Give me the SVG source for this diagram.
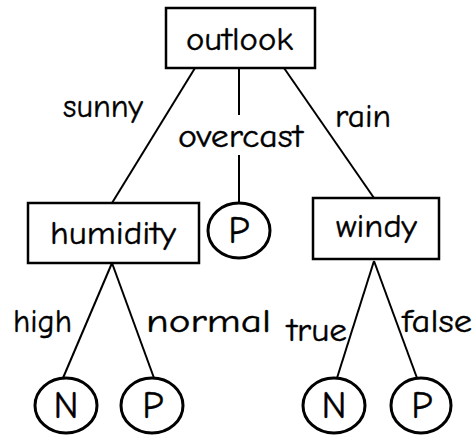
<svg xmlns="http://www.w3.org/2000/svg" width="475" height="436" viewBox="0 0 475 436">
<style>
.box{fill:#fff;stroke:#000;stroke-width:2.5}
.leaf{fill:#fff;stroke:#000;stroke-width:3}
.edge{fill:none;stroke:#000;stroke-width:2}
text{font-family:"Comic Sans MS","Comic Neue","Liberation Sans",sans-serif;font-size:33px;fill:#000;stroke:#000;stroke-width:0.4;text-anchor:middle}
.big{font-size:38px}
</style>
<rect width="475" height="436" fill="#fff"/>
<g id="connectors">
<line class="edge" x1="195" y1="68" x2="112" y2="203"/>
<path class="edge" d="M239 68V115M239 155V203"/>
<line class="edge" x1="284" y1="68" x2="374" y2="198"/>
<line class="edge" x1="112" y1="263" x2="63" y2="378"/>
<line class="edge" x1="112" y1="263" x2="154" y2="378"/>
<line class="edge" x1="374" y1="261" x2="337" y2="378"/>
<line class="edge" x1="374" y1="261" x2="417" y2="378"/>
<text x="103" y="117" textLength="80" lengthAdjust="spacingAndGlyphs">sunny</text>
<text x="240.5" y="147" textLength="125" lengthAdjust="spacingAndGlyphs">overcast</text>
<text x="363" y="127" textLength="56" lengthAdjust="spacingAndGlyphs">rain</text>
<text x="42.5" y="332" textLength="59" lengthAdjust="spacingAndGlyphs">high</text>
<text x="208.5" y="332" textLength="125" lengthAdjust="spacingAndGlyphs">normal</text>
<text x="317" y="341" textLength="60" lengthAdjust="spacingAndGlyphs">true</text>
<text x="437" y="332" textLength="70" lengthAdjust="spacingAndGlyphs">false</text>
</g>
<g id="outlook">
<rect class="box" x="166" y="8" width="149" height="60"/>
<text x="239.5" y="50" textLength="107" lengthAdjust="spacingAndGlyphs">outlook</text>
</g>
<g id="humidity">
<rect class="box" x="28" y="203" width="171" height="60"/>
<text x="113" y="244" textLength="126" lengthAdjust="spacingAndGlyphs">humidity</text>
</g>
<g id="p-overcast">
<ellipse class="leaf" cx="239" cy="230.5" rx="31" ry="27.5"/>
<text class="big" x="239" y="243">P</text>
</g>
<g id="windy">
<rect class="box" x="313" y="198" width="126" height="61"/>
<text x="376.5" y="237" textLength="81" lengthAdjust="spacingAndGlyphs">windy</text>
</g>
<g id="n-high">
<ellipse class="leaf" cx="66" cy="405.5" rx="31" ry="27.5"/>
<text class="big" x="66" y="418">N</text>
</g>
<g id="p-normal">
<ellipse class="leaf" cx="152" cy="405.5" rx="31" ry="27.5"/>
<text class="big" x="153" y="418">P</text>
</g>
<g id="n-true">
<ellipse class="leaf" cx="334" cy="405.5" rx="31" ry="27.5"/>
<text class="big" x="334" y="418">N</text>
</g>
<g id="p-false">
<ellipse class="leaf" cx="421" cy="405.5" rx="30" ry="27.5"/>
<text class="big" x="422" y="418">P</text>
</g>
</svg>
